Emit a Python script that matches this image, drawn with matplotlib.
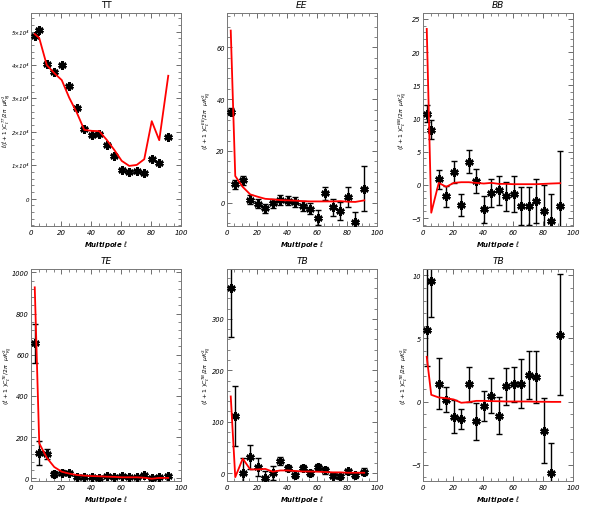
import numpy as np
import matplotlib
matplotlib.use("Agg")
import matplotlib.pyplot as plt
from matplotlib.ticker import MultipleLocator, AutoMinorLocator, FuncFormatter

# ── Data ────────────────────────────────────────────────────────────────────
ell = [2.5, 5.5, 10.5, 15.5, 20.5, 25.5, 30.5, 35.5, 40.5, 45.5,
       50.5, 55.5, 60.5, 65.5, 70.5, 75.5, 80.5, 85.5, 91.5]

tt_data = [48800, 50600, 40200, 38000, 40000, 33700, 27000, 21000, 19000, 19300,
           16200, 12800, 8700, 8000, 8200, 7600, 11800, 10600, 18600]
tt_err = [450] * 19
tt_model = [49300, 48100, 40000, 37600, 35500, 30200, 25800, 20600, 20300, 20200,
            17600, 14600, 11300, 9800, 10100, 11800, 23200, 17500, 36800]

ee_data = [35.2, 7.1, 8.6, 1.2, -0.4, -2.2, -0.3, 1.0, 0.8, 0.3,
           -1.2, -2.3, -5.8, 3.6, -1.8, -3.2, 2.3, -7.5, 5.4]
ee_err = [1.3, 1.8, 1.8, 1.8, 1.8, 1.8, 1.8, 1.8, 1.8, 1.8,
          1.9, 2.2, 2.8, 2.4, 3.4, 3.4, 3.9, 3.8, 8.6]
ee_model = [66.5, 10.3, 6.1, 3.2, 2.3, 1.5, 1.3, 1.0, 0.9, 0.8,
            0.6, 0.5, 0.5, 0.5, 0.5, 0.6, 0.4, 0.3, 0.9]

bb_data = [10.75, 8.3, 0.85, -1.75, 2.0, -3.05, 3.5, 0.55, -3.7, -1.25,
           -0.8, -1.75, -1.4, -3.15, -3.2, -2.4, -4.0, -5.4, -3.25]
bb_err = [1.3, 1.4, 1.45, 1.6, 1.65, 1.7, 1.75, 1.8, 2.0, 2.1,
          2.2, 2.25, 2.7, 2.9, 2.9, 3.3, 4.0, 4.0, 8.4]
bb_model = [23.5, -4.2, 0.3, -0.3, 0.3, 0.4, 0.4, 0.3, 0.2, 0.3,
            0.15, 0.15, 0.1, 0.1, 0.1, 0.1, 0.15, 0.2, 0.25]

te_data = [655, 125, 117, 20, 28, 26, 6.5, 8, 8, 3,
           11, 6, 10, 6, 5, 15, 3, 6, 13]
te_err = [96, 58, 25, 15, 10, 8, 6, 6, 6, 6,
          6, 6, 6, 6, 6, 6, 6, 6, 6]
te_model = [927, 170, 100, 55, 32, 23, 16, 13, 11, 10,
            8, 7, 5, 5, 5, 3, -2, 2, 2]

tb_data = [361, 111, -0.5, 31, 12, -9, 0, 24, 10, -3,
           10, 0.6, 12, 5, -5, -6, 3, -4, 2.6]
tb_err = [97, 58, 30, 24, 18, 12, 13, 8, 6, 6,
          6, 6, 6, 6, 5, 5, 5, 5, 7]
tb_model = [149, -8, 28, 7, 7, 8, 2.6, 5, 5, 4,
            3, 3, 2.6, 2, 1.3, 1.3, 0.6, 0.6, 0.6]

tb2_data = [5.65, 9.55, 1.42, 0.13, -1.19, -1.37, 1.37, -1.58, -0.34, 0.45,
            -1.11, 1.19, 1.37, 1.40, 2.11, 1.93, -2.32, -5.67, 5.28]
tb2_err_lo = [2.8, 2.85, 2.0, 1.0, 1.3, 0.8, 1.4, 1.45, 1.2, 1.4,
              1.5, 1.5, 1.4, 1.95, 1.9, 2.05, 2.56, 2.4, 4.8]
tb2_err_hi = [6.0, 2.85, 2.0, 1.0, 1.3, 0.8, 1.4, 1.45, 1.2, 1.4,
              1.5, 1.5, 1.4, 1.95, 1.9, 2.05, 2.56, 2.4, 4.8]
tb2_model = [3.54, 0.53, 0.32, 0.26, 0.16, -0.1, -0.05, 0.05, 0.05, 0.03,
             0.02, 0.0, 0.0, 0.0, 0.0, -0.02, -0.02, -0.03, -0.03]

# ── Layout ──────────────────────────────────────────────────────────────────
W, H = 589, 510
fig = plt.figure(figsize=(W / 100, H / 100), dpi=100)

def ax_at(x0, y0, x1, y1):
    return fig.add_axes([x0 / W, 1 - y1 / H, (x1 - x0) / W, (y1 - y0) / H])

FS = 5.0
ylab = r"$(\ell+1\ )C_\ell^{%s}/2\pi\ \ \mu K_{RJ}^2$"

def style(ax, title, ylim, ymaj, ylabel, labx, italic=True, labsize=4.4):
    ax.set_xlim(0, 100)
    ax.set_ylim(*ylim)
    ax.xaxis.set_major_locator(MultipleLocator(20))
    ax.xaxis.set_minor_locator(MultipleLocator(5))
    ax.yaxis.set_major_locator(MultipleLocator(ymaj))
    ax.yaxis.set_minor_locator(AutoMinorLocator(5))
    ax.tick_params(which="both", direction="in", top=True, right=True,
                   labelsize=FS, colors="#555555", labelcolor="black", pad=2)
    ax.tick_params(axis="y", labelsize=4.8, pad=1.5)
    ax.tick_params(which="major", length=3.5, width=0.6)
    ax.tick_params(which="minor", length=2, width=0.5)
    for s in ax.spines.values():
        s.set_color("#777777")
        s.set_linewidth(0.7)
    for lb in ax.get_xticklabels() + ax.get_yticklabels():
        lb.set_fontstyle("italic")
    ax.set_title(title, fontsize=6.5, style="italic" if italic else "normal",
                 pad=4)
    ax.set_xlabel(r"Multipole $\ell$", fontsize=FS, style="italic",
                  fontweight="bold", labelpad=2)
    ax.set_ylabel(ylabel, fontsize=labsize, va="center")
    ax.yaxis.set_label_coords(labx, 0.5)

def draw(ax, data, err, model):
    ax.errorbar(ell, data, yerr=err, fmt="none", ecolor="black",
                elinewidth=1.0, capsize=2.5, capthick=1.0, zorder=2)
    ax.plot(ell, data, ls="none", marker=(6, 2, 0), ms=6, mew=1.8,
            color="black", zorder=3)
    ax.plot(ell, model, color="red", lw=1.3, zorder=4)

# TT
ax = ax_at(31, 14, 181, 227)
draw(ax, tt_data, tt_err, tt_model)
style(ax, "TT", (-8200, 55600), 10000,
      r"$\ell(\ell+1\ )C_\ell^{TT}/2\pi\ \ \mu K_{RJ}^2$", -0.163,
      italic=False, labsize=4.0)
ax.yaxis.set_major_formatter(FuncFormatter(
    lambda v, p: "0" if abs(v) < 1 else "%d×10⁴" % round(v / 1e4)))
ax.tick_params(axis="y", labelsize=4.0, pad=1.2)
for lb in ax.get_yticklabels():
    lb.set_fontstyle("italic")

# EE
ax = ax_at(227, 14, 377, 227)
draw(ax, ee_data, ee_err, ee_model)
style(ax, "EE", (-9, 73.3), 20, ylab % "EE", -0.135)

# BB
ax = ax_at(423, 14, 573, 227)
draw(ax, bb_data, bb_err, bb_model)
style(ax, "BB", (-6.2, 25.9), 5, ylab % "BB", -0.135)

# TE
ax = ax_at(31, 270, 181, 482)
draw(ax, te_data, te_err, te_model)
style(ax, "TE", (-13, 1016), 200, ylab % "TE", -0.155)

# TB
ax = ax_at(227, 270, 377, 482)
draw(ax, tb_data, tb_err, tb_model)
style(ax, "TB", (-15.5, 397), 100, ylab % "TB", -0.135)

# TB (second)
ax = ax_at(423, 270, 573, 482)
draw(ax, tb2_data, [tb2_err_lo, tb2_err_hi], tb2_model)
style(ax, "TB", (-6.3, 10.5), 5, ylab % "TB", -0.125)

fig.savefig("out.png", dpi=100)
